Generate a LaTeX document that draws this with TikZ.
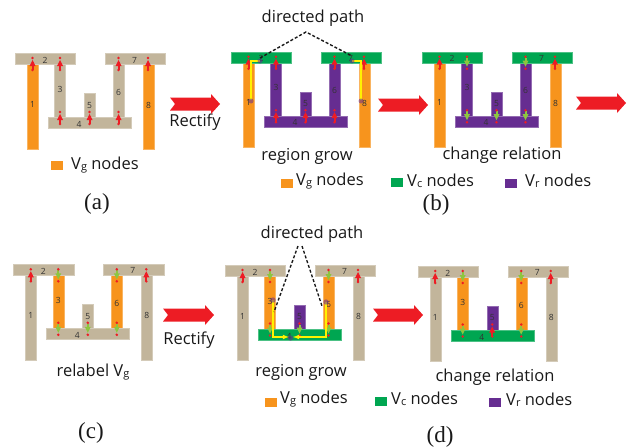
\documentclass[tikz,border=0pt]{standalone}
\usepackage{fontspec}
\setmainfont{Open Sans}
\newfontfamily\capfont{Liberation Serif}
\definecolor{tanc}{HTML}{C2B59B}
\definecolor{orangec}{HTML}{F7941D}
\definecolor{greenc}{HTML}{00A651}
\definecolor{purplec}{HTML}{662D91}
\definecolor{redc}{HTML}{ED1C24}
\definecolor{limec}{HTML}{8DC63F}
\definecolor{yellowc}{HTML}{FFF200}
\tikzset{
  x=1pt,y=-1pt,
  num/.style={font=\fontsize{8.5}{9}\selectfont,text=black!80,inner sep=0pt},
  lab/.style={font=\fontsize{16.5}{18}\selectfont,text=black!90,inner sep=0pt},
  captext/.style={font=\capfont\fontsize{23}{25}\selectfont,text=black!90,inner sep=0pt},
  dpath/.style={draw=black!90,line width=1.4pt,dash pattern=on 3pt off 2pt},
  ypath/.style={draw=yellowc,line width=1.1pt},
  blob/.style={fill=purplec,opacity=.55},
}
\newcommand{\partbox}[5]{\fill[#5,draw=#5!70!white,line width=.3pt] (#1,#2) rectangle (#3,#4);}
\newcommand{\bars}[8]{%
  \partbox{12}{11}{23}{95.5}{#1}
  \partbox{39.5}{11}{50.5}{64.5}{#3}
  \partbox{98}{11}{109}{64.5}{#6}
  \partbox{128}{11}{139}{95.5}{#8}
  \partbox{69}{40}{80}{64.5}{#5}
  \partbox{33}{64}{116}{75}{#4}
  \partbox{0}{0}{60.5}{11}{#2}
  \partbox{90}{0}{150.5}{11}{#7}
  \node[num] at (17.5,51) {1};
  \node[num] at (30,7) {2};
  \node[num] at (45,36) {3};
  \node[num] at (64,71) {4};
  \node[num] at (74.5,52) {5};
  \node[num] at (103.5,39) {6};
  \node[num] at (119.5,6.5) {7};
  \node[num] at (133.5,51.5) {8};
}
% red arrow pointing up with red end dots
\newcommand{\upm}[2]{%
  \fill[redc] (#1-1,#2+6) rectangle (#1+1,#2-2);
  \fill[redc] (#1,#2-4) -- (#1+3,#2+2) -- (#1-3,#2+2) -- cycle;
  \fill[redc] (#1,#2-6) circle (1.4) (#1,#2+6) circle (1.4);
}
% green arrow pointing down with red end dots
\newcommand{\dnm}[2]{%
  \fill[limec] (#1-1,#2-5) rectangle (#1+1,#2);
  \fill[limec] (#1,#2+4) -- (#1+3,#2-2) -- (#1-3,#2-2) -- cycle;
  \fill[redc] (#1,#2-6) circle (1.4) (#1,#2+6) circle (1.4);
}
% large notched arrow: x from, x to, y centre
\newcommand{\bigarrow}[3]{%
  \fill[redc] (#1,#3-6.5) -- (#2-9,#3-6.5) -- (#2-9,#3-10) -- (#2,#3) -- (#2-9,#3+10) -- (#2-9,#3+6.5) -- (#1,#3+6.5) -- (#1+5,#3) -- cycle;
}
\newcommand{\swatch}[3]{\fill[#3] (#1,#2) rectangle ++(11.5,9);}
\newcommand{\vlab}[2]{V{\fontsize{#1}{#1}\selectfont\raisebox{-1.2pt}{#2}} nodes}
\begin{document}
\begin{tikzpicture}
\useasboundingbox (0,0) rectangle (633,447);
% ---------- panel a
\begin{scope}[shift={(15,53.5)}]
  \bars{orangec}{tanc}{tanc}{tanc}{tanc}{tanc}{tanc}{orangec}
  \upm{17.5}{10.5}\upm{45}{10.5}\upm{103.5}{10.5}\upm{133}{10.5}
  \upm{45}{64.5}\upm{74.5}{64.5}\upm{103.5}{64.5}
\end{scope}
\swatch{51}{160.5}{orangec}
\node[lab,anchor=west] (la) at (71,165) {\vlab{11}{g}};
\node[captext] (ca) at (97,204) {(a)};
\node[lab] (ra) at (195,122) {Rectify};
\bigarrow{170}{220}{104}
% ---------- panel b1
\begin{scope}[shift={(231,51.7)}]
  \bars{orangec}{greenc}{purplec}{purplec}{purplec}{purplec}{greenc}{orangec}
  \upm{17.5}{11}\upm{45}{11}\upm{103.5}{11}\upm{133}{11}
  \upm{45}{64.5}\upm{74.5}{64.5}\upm{103.5}{64.5}
\end{scope}
\draw[ypath] (251,100) -- (251,61) -- (260,61);
\draw[ypath] (361,100) -- (361,61) -- (352,61);
\fill[blob] (251,101) circle (2.5) (260,61) circle (2.5) (352,61) circle (2.5) (361,101) circle (2.5);
\node[lab] (dpa) at (313,18) {directed path};
\coordinate (apa) at (306,32);
\coordinate (apl) at (260,58);
\coordinate (apr) at (352,56);
\draw[dpath] (apl) -- (apa) -- (apr);
\node[lab] (rga) at (307,156) {region grow};
\swatch{281}{179}{orangec}
\node[lab,anchor=west] at (296,181) {\vlab{11}{g}};
\swatch{391}{178}{greenc}
\node[lab,anchor=west] at (407,181) {\vlab{11}{c}};
\swatch{505}{179}{purplec}
\node[lab,anchor=west] at (525,181) {\vlab{11}{r}};
\bigarrow{378}{428}{105}
% ---------- panel b2
\begin{scope}[shift={(422,51.7)}]
  \bars{orangec}{greenc}{purplec}{purplec}{purplec}{purplec}{greenc}{orangec}
  \upm{17.5}{11}\dnm{45}{11}\dnm{103.5}{11}\upm{133}{11}
  \dnm{45}{64.5}\dnm{74.5}{64.5}\dnm{103.5}{64.5}
\end{scope}
\node[lab] (cra) at (502,155) {change relation};
\node[captext] (cb) at (436,205) {(b)};
\bigarrow{576}{626}{103}
% ---------- panel c
\begin{scope}[shift={(13.3,264.3)}]
  \bars{tanc}{tanc}{orangec}{tanc}{tanc}{orangec}{tanc}{tanc}
  \upm{17.5}{11}\dnm{45}{11}\dnm{103.5}{11}\upm{133}{11}
  \dnm{45}{64.5}\dnm{74.5}{64.5}\dnm{103.5}{64.5}
\end{scope}
\node[lab] (lc) at (93,372) {relabel V{\fontsize{11}{11}\selectfont\raisebox{-1.2pt}{g}}};
\node[captext] (cc) at (91,433) {(c)};
\node[lab] (rc) at (189,340) {Rectify};
\bigarrow{163}{214}{315}
% ---------- panel d1
\begin{scope}[shift={(225,265)}]
  \bars{tanc}{tanc}{orangec}{greenc}{purplec}{orangec}{tanc}{tanc}
  \upm{17.5}{11}\dnm{45}{11}\dnm{103.5}{11}\upm{133}{11}
  \dnm{45}{64.5}\dnm{74.5}{64.5}\dnm{103.5}{64.5}
\end{scope}
\draw[ypath,-latex] (273,300) -- (273,337) -- (289,337);
\draw[ypath,-latex] (326,302) -- (326,337) -- (293,337);
\fill[blob] (273,300) circle (2.7) (326,302) circle (2.7) (290.5,338) circle (2.7);
\node[lab] (dpb) at (312,234) {directed path};
\coordinate (apb) at (298,246);
\coordinate (apc) at (302,246);
\coordinate (apd) at (274,312);
\coordinate (ape) at (322,306);
\draw[dpath] (apb) -- (apd);
\draw[dpath] (apc) -- (ape);
\node[lab] (rgb) at (301,372) {region grow};
\swatch{265}{398}{orangec}
\node[lab,anchor=west] at (280,399) {\vlab{11}{g}};
\swatch{375}{397}{greenc}
\node[lab,anchor=west] at (391,399) {\vlab{11}{c}};
\swatch{489}{398}{purplec}
\node[lab,anchor=west] at (506,400) {\vlab{11}{r}};
\bigarrow{373}{423}{315}
% ---------- panel d2
\begin{scope}[shift={(417.7,266)}]
  \bars{tanc}{tanc}{orangec}{greenc}{purplec}{orangec}{tanc}{tanc}
  \upm{17.5}{11}\dnm{45}{11}\dnm{103.5}{11}\upm{133}{11}
  \dnm{45}{64.5}\upm{74.5}{64.5}\dnm{103.5}{64.5}
\end{scope}
\node[lab] (crb) at (495,377) {change relation};
\node[captext] (cd) at (440,437) {(d)};
\end{tikzpicture}
\end{document}
